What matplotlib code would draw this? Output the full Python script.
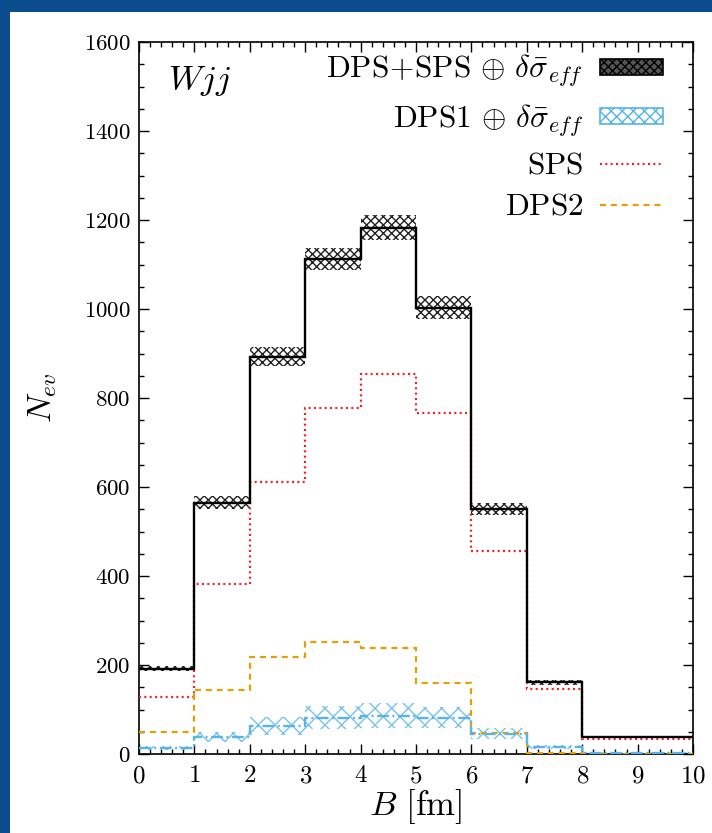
import matplotlib
matplotlib.use('Agg')
import matplotlib.pyplot as plt
from matplotlib.patches import Rectangle, Patch
from matplotlib.lines import Line2D
from matplotlib.ticker import MultipleLocator
import numpy as np

plt.rcParams['mathtext.fontset'] = 'cm'
plt.rcParams['font.family'] = 'serif'
plt.rcParams['font.serif'] = ['cmr10', 'DejaVu Serif']
plt.rcParams['axes.formatter.use_mathtext'] = True
plt.rcParams['hatch.linewidth'] = 1.0

# impact parameter bins [fm]
edges = np.arange(0, 11, 1)

# event counts per bin
total = np.array([192, 565, 893, 1112, 1183, 1003, 550, 161, 38, 38])
total_err = np.array([6, 15, 22, 25, 28, 26, 14, 6, 2, 2])
sps = np.array([129, 381, 612, 777, 853, 766, 456, 147, 33, 33])
dps2 = np.array([49, 144, 218, 252, 238, 159, 47, 3, 1, 1])
dps1 = np.array([13, 39, 63, 82, 86, 82, 46, 16, 3, 3])
dps1_err = np.array([4, 11, 21, 25, 28, 23, 12, 4, 2, 2])

c_sps = '#E8232A'
c_dps2 = '#E69F00'
c_dps1 = '#56B4E9'

fig = plt.figure(figsize=(7.12, 8.33), dpi=100)
fig.patch.set_facecolor('#0B4C8C')
fig.patches.append(Rectangle((10 / 712, 0), 702 / 712, 821 / 833,
                             transform=fig.transFigure, facecolor='white',
                             edgecolor='none', zorder=-10))

ax = fig.add_axes([139 / 712, 79 / 833, 554 / 712, 712 / 833])
ax.set_facecolor('white')

centers = 0.5 * (edges[:-1] + edges[1:])
widths = np.diff(edges)

# uncertainty bands
ax.bar(centers, 2 * dps1_err, bottom=dps1 - dps1_err, width=widths,
       facecolor='none', edgecolor=c_dps1, hatch='xx', linewidth=0,
       alpha=0.8, zorder=2)
ax.bar(centers, 2 * total_err, bottom=total - total_err, width=widths,
       facecolor='none', edgecolor='#222222', hatch='xxxx', linewidth=0,
       zorder=2)

# histograms
ax.stairs(sps, edges, baseline=None, color=c_sps, lw=1.6,
          linestyle=(0, (0.9, 1.5)), zorder=3)
ax.stairs(dps2, edges, baseline=None, color=c_dps2, lw=1.6,
          linestyle=(0, (2.7, 2.2)), zorder=3)
ax.stairs(dps1, edges, baseline=None, color=c_dps1, lw=1.7,
          linestyle=(0, (5, 1.5, 0.8, 1.5)), zorder=4)
ax.stairs(total, edges, baseline=None, color='black', lw=1.7, zorder=5)

ax.set_xlim(0, 10)
ax.set_ylim(0, 1600)
ax.xaxis.set_major_locator(MultipleLocator(1))
ax.xaxis.set_minor_locator(MultipleLocator(0.2))
ax.yaxis.set_major_locator(MultipleLocator(200))
ax.yaxis.set_minor_locator(MultipleLocator(50))
ax.tick_params(which='both', direction='in', top=True, right=True, width=1.0)
ax.tick_params(which='major', length=7)
ax.tick_params(which='minor', length=3.5)
ax.tick_params(axis='x', labelsize=18, pad=8)
ax.tick_params(axis='y', labelsize=16.5, pad=6)
for s in ax.spines.values():
    s.set_linewidth(1.2)

ax.set_xlabel(r'$B\ [\mathrm{fm}]$', fontsize=25, labelpad=0)
ax.set_ylabel(r'$N_{ev}$', fontsize=24, labelpad=18)

ax.text(0.052, 0.945, r'$Wjj$', transform=ax.transAxes, fontsize=25,
        ha='left', va='center')

handles = [
    Patch(facecolor='#555555', edgecolor='black', hatch='xxxx', linewidth=1.2),
    Patch(facecolor='white', edgecolor=c_dps1, hatch='xxx', linewidth=1.2),
    Line2D([], [], color=c_sps, lw=1.6, linestyle=(0, (0.9, 1.5))),
    Line2D([], [], color=c_dps2, lw=1.6, linestyle=(0, (2.7, 2.2))),
]
labels = [
    r'$\mathrm{DPS\!+\!SPS}\,\oplus\,\delta\bar{\sigma}_{eff}$',
    r'$\mathrm{DPS1}\,\oplus\,\delta\bar{\sigma}_{eff}$',
    r'$\mathrm{SPS}$',
    r'$\mathrm{DPS2}$',
]
ax.legend(handles, labels, loc='upper right', bbox_to_anchor=(0.985, 1.015),
          frameon=False, markerfirst=False, fontsize=22.5, handlelength=2.0,
          handleheight=0.42, handletextpad=0.55, labelspacing=0.42,
          borderpad=0.2)

fig.savefig('out.png', dpi=100, facecolor=fig.get_facecolor())
